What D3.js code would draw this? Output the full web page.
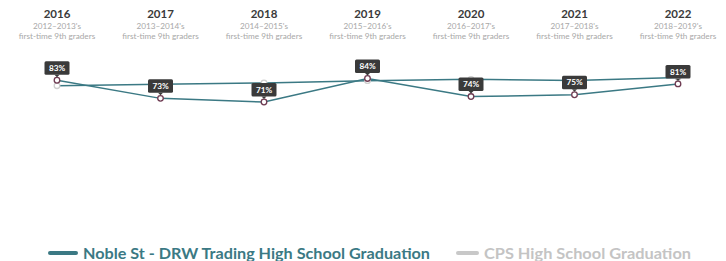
<!DOCTYPE html>
<html><head><meta charset="utf-8">
<script src="https://cdn.jsdelivr.net/npm/d3@7/dist/d3.min.js"></script>
<style>
body{margin:0;background:#fff;}
svg{display:block;font-family:Lato,"Open Sans",sans-serif;}
</style></head>
<body><svg id="c" width="726" height="261"></svg>
<script>
const years = ["2016","2017","2018","2019","2020","2021","2022"];
const cohorts = ["2012–2013's","2013–2014's","2014–2015's","2015–2016's","2016–2017's","2017–2018's","2018–2019's"];
const nobleValues = [83,73,71,84,74,75,81];
const cpsValues = [80,80.8,81.5,82.8,83.5,82.9,84.5];
const seriesNames = ["Noble St - DRW Trading High School Graduation","CPS High School Graduation"];

const svg = d3.select("#c");
const x = d3.scalePoint().domain(years).range([57,678]);
const y = d3.scaleLinear().domain([0,100]).range([230.5,49.5]);
const teal = "#3b7984";

// headers
const hdr = svg.append("g");
years.forEach((yr,i)=>{
  const cx = x(yr);
  hdr.append("text").attr("x",cx).attr("y",18).attr("text-anchor","middle")
    .attr("font-size",11.5).attr("font-weight","bold").attr("fill","#3a3a3a").text(yr);
  hdr.append("text").attr("x",cx).attr("y",28.5).attr("text-anchor","middle")
    .attr("font-size",8.2).attr("fill","#a8a8a8").text(cohorts[i]);
  hdr.append("text").attr("x",cx).attr("y",38.5).attr("text-anchor","middle")
    .attr("font-size",8.2).attr("fill","#a8a8a8").text("first-time 9th graders");
});

const line = d3.line().x((d,i)=>x(years[i])).y(d=>y(d));
svg.append("path").datum(cpsValues).attr("d",line).attr("fill","none")
  .attr("stroke",teal).attr("stroke-width",1.5);
svg.append("g").selectAll("circle").data(cpsValues).join("circle")
  .attr("cx",(d,i)=>x(years[i])).attr("cy",d=>y(d)).attr("r",2.8)
  .attr("fill","#fff").attr("stroke","#cfcfcf").attr("stroke-width",1.3);

svg.append("path").datum(nobleValues).attr("d",line).attr("fill","none")
  .attr("stroke",teal).attr("stroke-width",1.5);
svg.append("g").selectAll("circle").data(nobleValues).join("circle")
  .attr("cx",(d,i)=>x(years[i])).attr("cy",d=>y(d)).attr("r",2.8)
  .attr("fill","#fff").attr("stroke","#6e3b52").attr("stroke-width",1.3);

// labels
const lab = svg.append("g");
nobleValues.forEach((v,i)=>{
  const cx = x(years[i]), cy = y(v);
  const bw = 25, bh = 13.5, bb = cy - 5.5;
  lab.append("rect").attr("x",cx-bw/2).attr("y",bb-bh).attr("width",bw).attr("height",bh)
    .attr("rx",1.5).attr("fill","#3a3a3a");
  lab.append("path").attr("d",`M${cx-2.5},${bb} L${cx+2.5},${bb} L${cx},${bb+2.5} Z`).attr("fill","#3a3a3a");
  lab.append("text").attr("x",cx).attr("y",bb-3.8).attr("text-anchor","middle")
    .attr("font-size",8.2).attr("font-weight","bold").attr("fill","#fff").text(v+"%");
});

// legend
const leg = svg.append("g");
leg.append("line").attr("x1",50).attr("x2",76).attr("y1",253).attr("y2",253)
  .attr("stroke",teal).attr("stroke-width",4).attr("stroke-linecap","round");
leg.append("text").attr("x",83).attr("y",258.5).attr("font-size",14.5).attr("font-weight","bold")
  .attr("fill",teal).attr("textLength",347).attr("lengthAdjust","spacingAndGlyphs").text(seriesNames[0]);
leg.append("line").attr("x1",458).attr("x2",477).attr("y1",253).attr("y2",253)
  .attr("stroke","#c8c8c8").attr("stroke-width",4).attr("stroke-linecap","round");
leg.append("text").attr("x",484).attr("y",258.5).attr("font-size",14.5).attr("font-weight","bold")
  .attr("fill","#c4c4c4").attr("textLength",207).attr("lengthAdjust","spacingAndGlyphs").text(seriesNames[1]);
</script></body></html>
